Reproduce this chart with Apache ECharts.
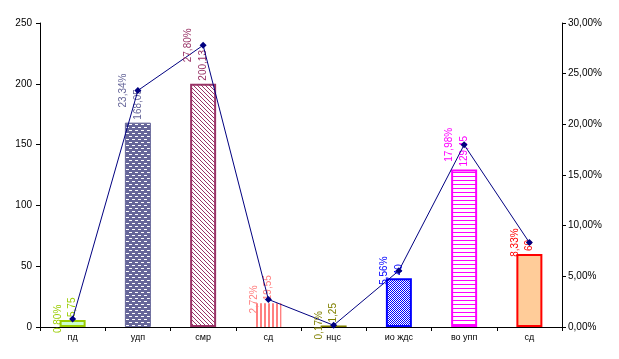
<!DOCTYPE html>
<html><head><meta charset="utf-8">
<script src="https://cdn.jsdelivr.net/npm/echarts@6/dist/echarts.min.js"></script>
<style>html,body{margin:0;padding:0;background:#fff}#c{width:619px;height:359px}</style>
</head><body><div id="c"></div>
<script>
const categories = ['пд','удп','смр','сд','нцс','ио ждс','во упп','сд'];
const values = [5.75, 168.05, 200.13, 19.55, 1.25, 40, 129.45, 60];
const valueLabels = ['5,75','168,05','200,13','19,55','1,25','40','129,45','60'];
const percents = [0.80, 23.34, 27.80, 2.72, 0.17, 5.56, 17.98, 8.33];
const leftTicks = [0, 50, 100, 150, 200, 250];

function tile(w, h, bg, fg, pts) {
  const c = document.createElement('canvas'); c.width = w; c.height = h;
  const g = c.getContext('2d'); g.fillStyle = bg; g.fillRect(0,0,w,h);
  g.fillStyle = fg; pts.forEach(p => g.fillRect(p[0], p[1], p[2]||1, p[3]||1));
  return {image: c, repeat: 'repeat'};
}
const styles = [
  {fill: '#ccffcc', border: '#99cc00', bw: 2, text: '#99cc00'},
  {fill: tile(6,6,'#666699','#ffffff',[[0,1,3,1],[3,4,3,1]]), border: '#666699', bw: 1, text: '#666699'},
  {fill: tile(4,4,'#ffffff','#993366',[[0,0],[1,1],[2,2],[3,3]]), border: '#993366', bw: 2, text: '#993366'},
  {fill: tile(4,2,'#ffffff','#ff8080',[[0,0,2,2]]), border: '#ff8080', bw: 0, text: '#ff8080'},
  {fill: '#808000', border: '#808000', bw: 0, text: '#808000'},
  {fill: tile(2,2,'#ffffff','#0000ff',[[0,0],[1,1]]), border: '#0000ff', bw: 2, text: '#0000ff'},
  {fill: tile(4,4,'#ffffff','#ff00ff',[[0,0,4,1]]), border: '#ff00ff', bw: 2, text: '#ff00ff'},
  {fill: '#ffcc99', border: '#ff0000', bw: 2, text: '#ff0000'}
];
const font = 'Liberation Sans';
const barData = values.map((v,i) => ({
  value: v,
  itemStyle: {color: styles[i].fill, borderColor: styles[i].border, borderWidth: styles[i].bw},
  label: {color: styles[i].text, formatter: valueLabels[i]}
}));
const lineData = percents.map((p,i) => ({
  value: p/100,
  label: {color: styles[i].text, formatter: p.toFixed(2).replace('.', ',') + '%'}
}));
const chart = echarts.init(document.getElementById('c'));
chart.setOption({
  animation: false,
  textStyle: {fontFamily: font},
  grid: {left: 40, right: 57, top: 23, bottom: 32},
  xAxis: {
    type: 'category', data: categories,
    axisLine: {lineStyle: {color: '#000', width: 1}},
    axisTick: {show: true, inside: false, length: 4, lineStyle: {color: '#000'}},
    axisLabel: {color: '#000', fontSize: 9, fontFamily: font, margin: 6}
  },
  yAxis: [{
    type: 'value', min: 0, max: 250, interval: 50,
    axisLine: {show: true, lineStyle: {color: '#000'}},
    axisTick: {show: true, length: 4, lineStyle: {color: '#000'}},
    splitLine: {show: false},
    axisLabel: {color: '#000', fontSize: 10, fontFamily: font, margin: 8,
      formatter: v => leftTicks.includes(v) ? String(v) : ''}
  }, {
    type: 'value', min: 0, max: 0.3, interval: 0.05, position: 'right',
    axisLine: {show: true, lineStyle: {color: '#000'}},
    axisTick: {show: true, length: 4, lineStyle: {color: '#000'}},
    splitLine: {show: false},
    axisLabel: {color: '#000', fontSize: 10, fontFamily: font, margin: 6,
      formatter: v => (v*100).toFixed(2).replace('.', ',') + '%'}
  }],
  series: [{
    type: 'bar', data: barData, barWidth: 26, yAxisIndex: 0, z: 2,
    label: {show: true, position: 'top', rotate: 90, align: 'left', verticalAlign: 'middle',
      distance: 3, fontSize: 10, fontFamily: font}
  }, {
    type: 'line', data: lineData, yAxisIndex: 1, z: 3,
    lineStyle: {color: '#000080', width: 1},
    itemStyle: {color: '#000080'},
    symbol: 'diamond', symbolSize: 7,
    label: {show: true, position: 'left', rotate: 90, align: 'center', verticalAlign: 'bottom',
      distance: 6, fontSize: 10, fontFamily: font}
  }]
});
</script></body></html>
